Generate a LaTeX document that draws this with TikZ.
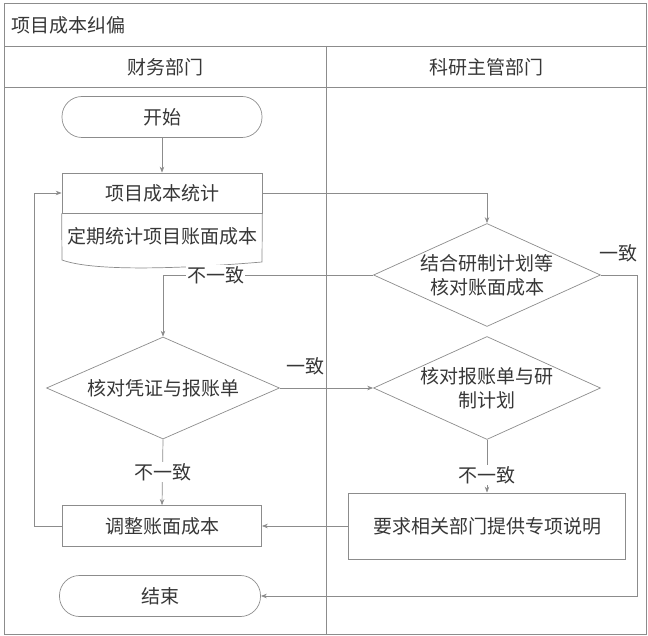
\documentclass[tikz,border=0pt]{standalone}
\usepackage{fontspec}
\setmainfont{Noto Sans CJK SC}
\usetikzlibrary{arrows.meta,positioning,shapes.geometric}
\definecolor{linegray}{RGB}{140,140,140}
\definecolor{txtgray}{RGB}{55,55,55}

\begin{document}
\begin{tikzpicture}[x=1pt,y=-1pt,font=\fontsize{19}{24}\selectfont,text=txtgray,
  >={Stealth[length=6pt,width=4.5pt]},
  gline/.style={draw=linegray,line width=0.7pt},
  term/.style={gline,rounded corners=20pt,minimum width=200pt,minimum height=41pt},
  proc/.style={gline,minimum width=200pt,minimum height=41pt},
  chk/.style={gline,diamond,shape aspect=2.2,inner sep=0pt,minimum width=227pt,minimum height=103pt,align=center},
  lbl/.style={fill=white,inner sep=1pt}]
  \useasboundingbox (0,0) rectangle (648,636);
  % ---------- lanes
  \draw[gline] (4,3) rectangle (646,634);
  \draw[gline] (4,46) -- (646,46) (4,87) -- (646,87) (326,46) -- (326,634);
  \node[anchor=west] (title) at (8,25) {项目成本纠偏};
  \node (lanefin) at (165,67) {财务部门};
  \node (lanesci) at (486,67) {科研主管部门};
  % ---------- finance
  \node[term] (start) at (162,117) {开始};
  \node[proc,minimum height=40pt] (stat) at (162,193) {项目成本统计};
  \node[minimum width=200pt,minimum height=40pt] (statdoc) at (162,236) {定期统计项目账面成本};
  \draw[gline] (stat.south west) -- (62,260) .. controls (100,274) and (215,266) .. (262,262) -- (stat.south east);
  \node[chk,minimum width=233pt,minimum height=102pt] (chk2) at (163,388) {核对凭证与报账单};
  \node[proc,minimum width=199pt] (adjust) at (162,526) {调整账面成本};
  \node[term,minimum width=201pt] (fin) at (160,596) {结束};
  % ---------- research
  \node[chk] (chk1) at (487,275) {结合研制计划等\\核对账面成本};
  \node[chk] (chk3) at (487,388) {核对报账单与研\\制计划};
  \node[proc,minimum width=277pt,minimum height=66pt] (explain) at (487,526) {要求相关部门提供专项说明};
  % ---------- flow
  \coordinate (rgt) at (637,275);
  \coordinate (lft) at (34,526);
  \draw[gline,->] (start) -- (stat);
  \draw[gline,->] (stat.east) -| (chk1.north);
  \draw[gline,->] (chk1.west) -| node[lbl,pos=0.375] {不一致} (chk2.north);
  \draw[gline,->] (chk1.east) -- node[above=9pt] {一致} (rgt) |- (fin.east);
  \draw[gline,->] (chk2.east) -- node[above=9pt,pos=0.27] {一致} (chk3.west);
  \draw[gline,->] (chk2.south) -- node[lbl] {不一致} (adjust.north);
  \draw[gline,->] (chk3.south) -- node[lbl,pos=0.67] {不一致} (explain.north);
  \draw[gline,->] (explain.west) -- (adjust.east);
  \draw[gline,->] (adjust.west) -- (lft) |- (stat.west);
\end{tikzpicture}
\end{document}
